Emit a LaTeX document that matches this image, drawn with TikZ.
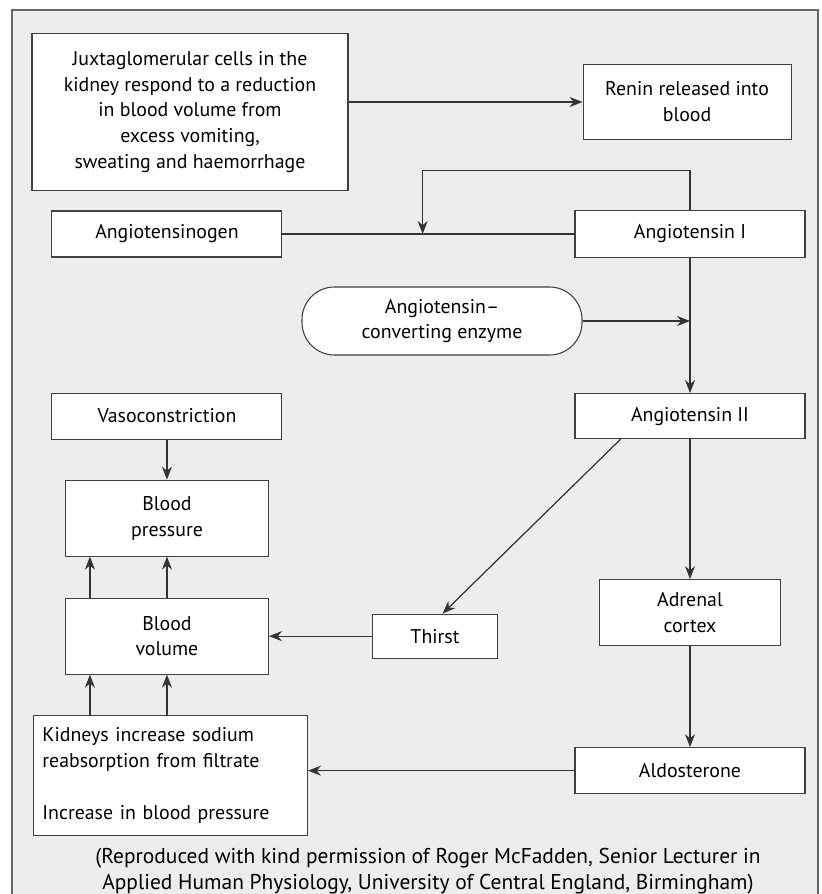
\documentclass[tikz,border=0pt]{standalone}
\usepackage{fontspec}
\setmainfont{PT Sans}
\usepackage{tikz}
\usetikzlibrary{arrows.meta, positioning, calc}
\tikzstyle{stage} = [rectangle, inner sep=0pt, text centered, align=center, draw=black!75, fill=white, line width=0.6pt]
\tikzstyle{enzyme} = [stage, rounded corners=6.5mm]
\tikzstyle{arrow} = [line width=0.7pt, draw=black!80, ->, >={Stealth[length=2.6mm, width=2mm]}]

\begin{document}
\begin{tikzpicture}[font=\fontsize{11.3}{14.7}\selectfont]
  \useasboundingbox (0,0) rectangle (16.42,-17.88);
  \fill[black!7] (0.24,-17.88) rectangle (16.36,-0.2);
  \draw[black!60, line width=0.6pt] (0.24,-17.88) -- (0.24,-0.2) -- (16.36,-0.2) -- (16.36,-17.88);

  \node[stage, minimum width=6.32cm, minimum height=3.14cm] (juxta) at (3.8,-2.24) {Juxtaglomerular cells in the\\kidney respond to a reduction\\in blood volume from\\excess vomiting,\\sweating and haemorrhage};
  \node[stage, minimum width=4.16cm, minimum height=1.5cm, right=4.68cm of juxta, yshift=0.2cm] (renin) {Renin released into\\blood};
  \node[stage, minimum width=4.6cm, minimum height=0.94cm] (ang1) at (13.8,-4.68) {Angiotensin I};
  \node[stage, minimum width=4.6cm, minimum height=0.92cm, left=5.84cm of ang1] (agen) {Angiotensinogen};
  \node[enzyme, minimum width=5.6cm, minimum height=1.36cm] (ace) at (8.84,-6.42) {Angiotensin--\\converting enzyme};
  \node[stage, minimum width=4.6cm, minimum height=0.9cm, below=2.7cm of ang1] (ang2) {Angiotensin II};
  \node[stage, minimum width=3.62cm, minimum height=1.32cm, below=2.8cm of ang2] (adrenal) {Adrenal\\cortex};
  \node[stage, minimum width=4.6cm, minimum height=0.92cm, below=2.02cm of adrenal] (aldo) {Aldosterone};
  \node[stage, minimum width=4.6cm, minimum height=0.92cm, left=5.84cm of ang2] (vaso) {Vasoconstriction};
  \node[stage, minimum width=4.06cm, minimum height=1.52cm, below=0.8cm of vaso] (bp) {Blood\\pressure};
  \node[stage, minimum width=4.06cm, minimum height=1.52cm, below=0.82cm of bp] (bv) {Blood\\volume};
  \node[stage, minimum width=2.5cm, minimum height=0.88cm, right=2.06cm of bv] (thirst) {Thirst};
  \node[stage, minimum width=5.48cm, minimum height=2.4cm, align=left, text width=5.12cm, inner sep=0.18cm, below=0.8cm of bv, xshift=0.07cm] (kidneys) {Kidneys increase sodium\\reabsorption from filtrate\\[14.7pt]Increase in blood pressure};
  \node[align=center, font=\fontsize{12.2}{14.7}\selectfont] (credit) at (8.56,-17.42) {(Reproduced with kind permission of Roger McFadden, Senior Lecturer in\\Applied Human Physiology, University of Central England, Birmingham)};

  \coordinate (join) at ($(agen.east)!0.48!(ang1.west)$);

  \draw[arrow] (juxta.east |- renin) -- (renin);
  \draw[line width=0.7pt, draw=black!80] (agen) -- (ang1);
  \draw[arrow] (ang1.north) -- ++(0,0.79) -| (join);
  \draw[arrow] (ang1) -- (ang2);
  \draw[arrow] (ace.east) -- (ace.east -| ang1);
  \draw[arrow] (ang2) -- (adrenal);
  \draw[arrow] (adrenal) -- (aldo);
  \draw[arrow] ($(ang2.south west)!0.2!(ang2.south east)$) -- ($(thirst.north west)!0.56!(thirst.north east)$);
  \draw[arrow] (thirst) -- (bv);
  \draw[arrow] (aldo.west) -- (aldo.west -| kidneys.east);
  \draw[arrow] (vaso) -- (bp);
  \draw[arrow] (bv) -- (bp);
  \draw[arrow] ([xshift=0.5cm]bv.north west) -- ([xshift=0.5cm]bp.south west);
  \draw[arrow] (kidneys.north -| bv.south) -- (bv.south);
  \draw[arrow] ([xshift=0.5cm]bv.south west |- kidneys.north) -- ([xshift=0.5cm]bv.south west);
\end{tikzpicture}
\end{document}
